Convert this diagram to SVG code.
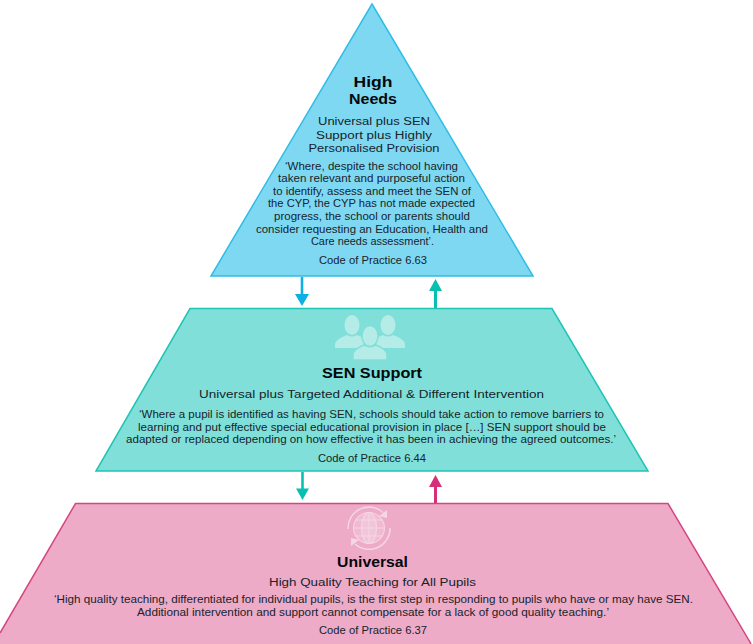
<svg xmlns="http://www.w3.org/2000/svg" width="753" height="644" viewBox="0 0 753 644">
<style>
text{font-family:"Liberation Sans","Open Sans",sans-serif;text-anchor:middle;fill:#17242b}
.h{font-weight:700;font-size:14.700px;fill:#05090c}
.s{font-size:11.700px}
.q{font-size:10.900px}
.c{font-size:11px}
.person{fill:#b6ece8}
.cut{stroke:#80e0d9;stroke-width:1.5}
.ring{fill:none;stroke:#f6d5e4;stroke-width:1.5}
.grid{fill:#fff;fill-opacity:.18;stroke:#f6d5e4;stroke-width:1.1}
.tip{fill:#f6d5e4}
</style>
<g id="connectors">
<path d="M302 277V296" stroke="#0eb0e4" stroke-width="2.600" fill="none"/><path d="M295 294H309L302 306z" fill="#0eb0e4"/>
<path d="M435.500 308V289" stroke="#06c0b0" stroke-width="3" fill="none"/><path d="M429 291H442L435.500 279z" fill="#06c0b0"/>
<path d="M302.500 472V490" stroke="#06c0b0" stroke-width="2.600" fill="none"/><path d="M296 488.500H309L302.500 500z" fill="#06c0b0"/>
<path d="M435.500 503V485" stroke="#d82d78" stroke-width="3" fill="none"/><path d="M429 487H442L435.500 475z" fill="#d82d78"/>
</g>
<g id="high-needs">
<path d="M372 4L533 276H211z" fill="#7fd8f2" stroke="#2ebde6" stroke-width="1.500"/>
<text class="h" x="373" y="86.500" textLength="39" lengthAdjust="spacingAndGlyphs">High</text>
<text class="h" x="373" y="103.500" textLength="48" lengthAdjust="spacingAndGlyphs">Needs</text>
<text class="s" x="374" y="125" textLength="112" lengthAdjust="spacingAndGlyphs">Universal plus SEN</text>
<text class="s" x="374" y="138.500" textLength="116" lengthAdjust="spacingAndGlyphs">Support plus Highly</text>
<text class="s" x="374" y="152" textLength="131" lengthAdjust="spacingAndGlyphs">Personalised Provision</text>
<text class="q" x="371.500" y="169.600" textLength="173" lengthAdjust="spacingAndGlyphs">‘Where, despite the school having</text>
<text class="q" x="371.500" y="182.200" textLength="187" lengthAdjust="spacingAndGlyphs">taken relevant and purposeful action</text>
<text class="q" x="372" y="194.800" textLength="198" lengthAdjust="spacingAndGlyphs">to identify, assess and meet the SEN of</text>
<text class="q" x="371.500" y="207.400" textLength="207" lengthAdjust="spacingAndGlyphs">the CYP, the CYP has not made expected</text>
<text class="q" x="372" y="220" textLength="196" lengthAdjust="spacingAndGlyphs">progress, the school or parents should</text>
<text class="q" x="372" y="232.600" textLength="232" lengthAdjust="spacingAndGlyphs">consider requesting an Education, Health and</text>
<text class="q" x="372.500" y="245.200" textLength="123" lengthAdjust="spacingAndGlyphs">Care needs assessment’.</text>
<text class="c" x="373" y="264" textLength="108" lengthAdjust="spacingAndGlyphs">Code of Practice 6.63</text>
</g>
<g id="sen-support">
<path d="M190 308.500H552L648 471H96z" fill="#80e0d9" stroke="#1fc4b6" stroke-width="1.500"/>
<g class="person">
<ellipse cx="352" cy="325" rx="7.500" ry="10"/><ellipse cx="388" cy="325" rx="7.500" ry="10"/>
<path d="M335 348V344Q336 339 347 335Q352 338 357 335L364 338V348z"/>
<path d="M405 348V344Q404 339 393 335Q388 338 383 335L376 338V348z"/>
<g class="cut">
<path d="M353 360V354Q354 349 364 345Q370 348 376 345Q386 349 387 354V360z"/>
<ellipse cx="370" cy="336" rx="8" ry="10.500"/>
</g>
</g>
<text class="h" x="372" y="378" textLength="100" lengthAdjust="spacingAndGlyphs">SEN Support</text>
<text class="s" x="371.500" y="398" textLength="345" lengthAdjust="spacingAndGlyphs">Universal plus Targeted Additional &amp; Different Intervention</text>
<text class="q" x="371.500" y="418" textLength="465" lengthAdjust="spacingAndGlyphs">‘Where a pupil is identified as having SEN, schools should take action to remove barriers to</text>
<text class="q" x="372" y="430.600" textLength="468" lengthAdjust="spacingAndGlyphs">learning and put effective special educational provision in place […] SEN support should be</text>
<text class="q" x="371" y="443.200" textLength="490" lengthAdjust="spacingAndGlyphs">adapted or replaced depending on how effective it has been in achieving the agreed outcomes.’</text>
<text class="c" x="372" y="462" textLength="108" lengthAdjust="spacingAndGlyphs">Code of Practice 6.44</text>
</g>
<g id="universal">
<path d="M75.500 503.500H668L750 644H0V633z" fill="#edabc8"/>
<path d="M0 633L75.500 503.500H668L751 644" fill="none" stroke="#d6457f" stroke-width="1.500"/>
<path class="ring" d="M383 512.500A21 21 0 0 0 348 529M355 544A21 21 0 0 0 390 528"/>
<path class="tip" d="M387 510L387 518 379 516zM351 546L351 538 359 540z"/>
<g class="grid">
<circle cx="369" cy="528" r="15.500"/><ellipse cx="369" cy="528" rx="7.500" ry="15.500"/>
<path d="M369 512.500V543.500M353.500 528H384.500M356 520H382M356 536H382"/>
</g>
<text class="h" x="372.500" y="567" textLength="71" lengthAdjust="spacingAndGlyphs">Universal</text>
<text class="s" x="372.500" y="586" textLength="207" lengthAdjust="spacingAndGlyphs">High Quality Teaching for All Pupils</text>
<text class="q" x="373.500" y="603" textLength="639" lengthAdjust="spacingAndGlyphs">‘High quality teaching, differentiated for individual pupils, is the first step in responding to pupils who have or may have SEN.</text>
<text class="q" x="373" y="615.600" textLength="472" lengthAdjust="spacingAndGlyphs">Additional intervention and support cannot compensate for a lack of good quality teaching.’</text>
<text class="c" x="373" y="634" textLength="108" lengthAdjust="spacingAndGlyphs">Code of Practice 6.37</text>
</g>
</svg>
